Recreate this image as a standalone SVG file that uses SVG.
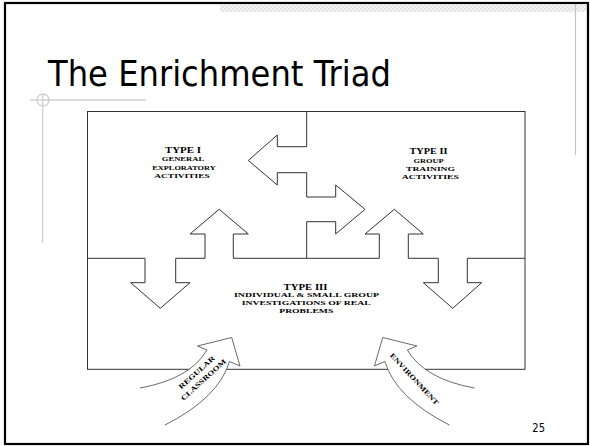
<svg xmlns="http://www.w3.org/2000/svg" width="590" height="446" viewBox="0 0 590 446">
<defs>
<pattern id="dots" width="4" height="4" patternUnits="userSpaceOnUse">
<rect width="4" height="4" fill="#f3f3f3"/>
<rect width="2" height="2" fill="#e4e4e4"/>
<rect x="2" y="2" width="2" height="2" fill="#e4e4e4"/>
</pattern>
<style>
.ln{fill:none;stroke:#333;stroke-width:1}
.arw{fill:#fff;stroke:#444;stroke-width:0.8}
.deco{fill:none;stroke:#d0d0d0;stroke-width:1.3}
.big{font-family:"Liberation Serif","Times New Roman",serif;font-weight:bold;font-size:9px;fill:#000;text-anchor:middle}
.sm{font-family:"Liberation Serif","Times New Roman",serif;font-weight:bold;font-size:7px;fill:#000;text-anchor:middle}
.rot{font-family:"Liberation Serif","Times New Roman",serif;font-weight:bold;font-size:7px;fill:#000;text-anchor:middle}
</style>
</defs>
<rect width="590" height="446" fill="#fff"/>
<g id="slide-frame">
<rect x="220" y="5" width="368" height="7" fill="url(#dots)"/>
<line x1="575.5" y1="4" x2="575.5" y2="155" stroke="#c4c4c4" stroke-width="1.2"/>
<line x1="30" y1="100" x2="146" y2="100" class="deco"/>
<line x1="42.7" y1="94" x2="42.7" y2="243" class="deco"/>
<circle cx="43" cy="100" r="6" class="deco"/>
<rect x="5" y="3" width="583" height="441" fill="none" stroke="#000" stroke-width="2.2"/>
</g>
<g id="title">
<text x="48" y="86" font-family="DejaVu Sans, Verdana, sans-serif" font-size="36" fill="#000" textLength="343" lengthAdjust="spacingAndGlyphs">The Enrichment Triad</text>
</g>
<g id="connectors">
<rect x="87.5" y="111.5" width="437.5" height="257.8" class="ln"/>
<path class="ln" d="M306.7,111.5 V146.7 H277.3 V135 L248.3,160.5 L277.3,185 V172.7 H306.7 V197 H335.7 V185 L365,209.3 L335.7,234 V221.7 H306.7 V258.3"/>
<path class="ln" d="M87.5,258.3 H145 V282.7 H130.7 L160.3,308.3 L190,282.7 H175.7 V258.3 H205 V234 H190 L219.2,209.3 L248.3,234 H233.3 V258.3 H379.3 V234 H365 L394.3,209.3 L423.3,234 H408.3 V258.3 H438.3 V282.7 H423.3 L452.7,308.3 L481.7,282.7 H467.3 V258.3 H525"/>
</g>
<g id="type1">
<text class="big" x="183" y="153.3" textLength="36" lengthAdjust="spacingAndGlyphs">TYPE I</text>
<text class="sm" x="183" y="161.3" textLength="42.3" lengthAdjust="spacingAndGlyphs">GENERAL</text>
<text class="sm" x="184" y="169.7" textLength="63.4" lengthAdjust="spacingAndGlyphs">EXPLORATORY</text>
<text class="sm" x="182" y="178" textLength="55.5" lengthAdjust="spacingAndGlyphs">ACTIVITIES</text>
</g>
<g id="type2">
<text class="big" x="428.5" y="154.3" textLength="38" lengthAdjust="spacingAndGlyphs">TYPE II</text>
<text class="sm" x="428.5" y="162.7" textLength="30" lengthAdjust="spacingAndGlyphs">GROUP</text>
<text class="sm" x="430.5" y="170.7" textLength="49" lengthAdjust="spacingAndGlyphs">TRAINING</text>
<text class="sm" x="430.3" y="179.3" textLength="57" lengthAdjust="spacingAndGlyphs">ACTIVITIES</text>
</g>
<g id="type3">
<text class="big" x="305.5" y="289.7" textLength="44" lengthAdjust="spacingAndGlyphs">TYPE III</text>
<text class="sm" x="306.5" y="297.3" textLength="145" lengthAdjust="spacingAndGlyphs">INDIVIDUAL &amp; SMALL GROUP</text>
<text class="sm" x="306.2" y="305" textLength="129" lengthAdjust="spacingAndGlyphs">INVESTIGATIONS OF REAL</text>
<text class="sm" x="306.3" y="312.7" textLength="54" lengthAdjust="spacingAndGlyphs">PROBLEMS</text>
</g>
<g id="regular-classroom">
<path class="arw" d="M140,388 Q190,379 207,350 L197.5,346 L231.7,337.5 L240,366 L229.5,361.5 Q218.5,398 165,425"/>
<g transform="translate(200,376) rotate(-42)">
<text class="rot" x="0" y="-2.5" textLength="46" lengthAdjust="spacingAndGlyphs">REGULAR</text>
<text class="rot" x="0" y="7.5" textLength="58" lengthAdjust="spacingAndGlyphs">CLASSROOM</text>
</g>
</g>
<g id="environment">
<path class="arw" d="M474.4,388 Q424.4,379 407.4,350 L416.9,346 L382.7,337.5 L374.4,366 L384.9,361.5 Q395.9,398 449.4,425"/>
<g transform="translate(414.5,379) rotate(47)">
<text class="rot" x="0" y="2.5" textLength="68" lengthAdjust="spacingAndGlyphs">ENVIRONMENT</text>
</g>
</g>
<g id="page-number">
<text x="538.7" y="431.7" font-family="DejaVu Sans, Verdana, sans-serif" font-size="13" fill="#000" text-anchor="middle" textLength="12.7" lengthAdjust="spacingAndGlyphs">25</text>
</g>
</svg>
